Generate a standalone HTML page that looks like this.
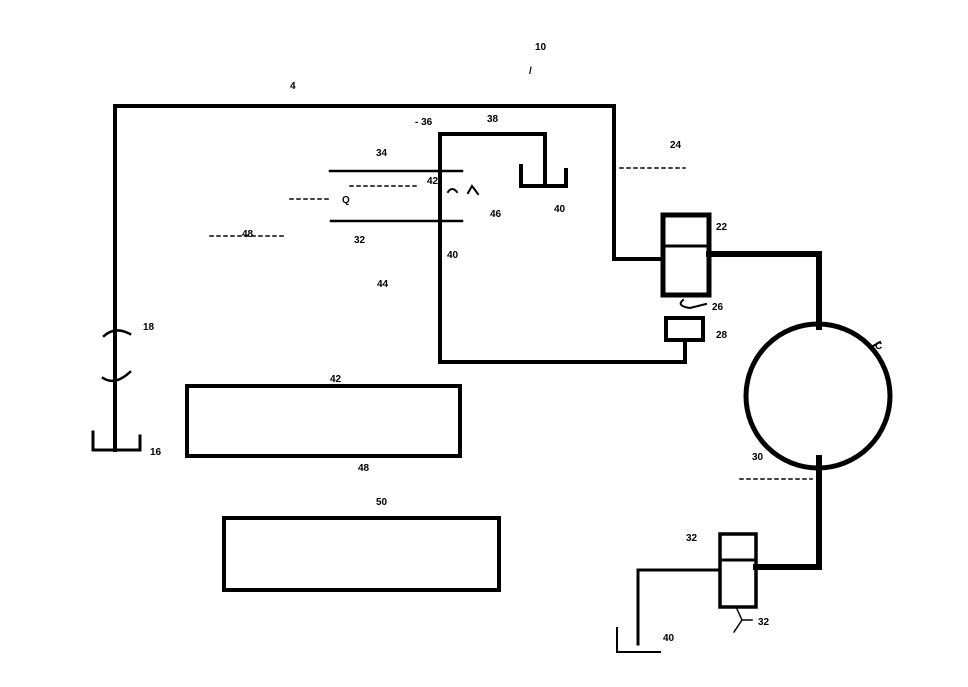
<!DOCTYPE html>
<html><head><meta charset="utf-8"><style>
html,body{margin:0;padding:0;background:#fff;width:968px;height:687px;overflow:hidden}
svg{display:block}
text{font-family:"Liberation Sans",sans-serif;font-weight:bold;font-size:10px;fill:#000}
</style></head><body>
<svg width="968" height="687" viewBox="0 0 968 687" xmlns="http://www.w3.org/2000/svg">
<g fill="none" stroke="#000" stroke-linecap="square">
<!-- top pipe -->
<path d="M115,450 V106 H614 V259 H662" stroke-width="4"/>
<!-- big box -->
<path d="M545,183 V134 H440 V362 H685 V340" stroke-width="4"/>
<!-- cup -->
<path d="M521,166 V186 H566 V170" stroke-width="4"/>
<!-- horizontal lines 34/32 -->
<path d="M330,171 H462 M331,221 H462" stroke-width="2.5"/>
<!-- valve 1 -->
<rect x="663" y="215" width="46" height="80" stroke-width="5"/>
<path d="M663,246 H709" stroke-width="3"/>
<rect x="666" y="318" width="37" height="22" stroke-width="4"/>
<path d="M709,254 H819 V327" stroke-width="6"/>
<!-- circle -->
<circle cx="818" cy="396" r="72" stroke-width="5"/>
<path d="M819,458 V567 H756" stroke-width="6"/>
<!-- valve 2 -->
<rect x="720" y="534" width="36" height="73" stroke-width="3.5"/>
<path d="M720,560 H756" stroke-width="3"/>
<path d="M720,570 H638 V644" stroke-width="3"/>
<path d="M617,628 V652 H660" stroke-width="2"/>
<!-- left cup -->
<path d="M93,432 V450 H140 V436" stroke-width="3"/>
<!-- rectangles -->
<rect x="187" y="386" width="273" height="70" stroke-width="4"/>
<rect x="224" y="518" width="275" height="72" stroke-width="4"/>
<!-- dotted leaders -->
<path d="M620,168 H685 M740,479 H812 M210,236 H285 M290,199 H330 M350,186 H420" stroke-width="1.5" stroke-dasharray="3,4"/>
<!-- orifice arcs -->
<path d="M104,336 Q115,326 130,334 M103,378 Q115,386 130,372" stroke-width="2.5"/>
<path d="M448,192 Q452,186 457,192 M468,193 L472,186 L478,194" stroke-width="2"/>
<path d="M683,300 Q676,306 690,308 L706,304" stroke-width="2"/>
<path d="M737,609 L742,620 L734,632 M742,620 L752,620" stroke-width="1.5"/>
<path d="M873,346 L880,342" stroke-width="2"/>
</g>
<text x="535" y="50">10</text>
<text x="529" y="74" font-size="9">/</text>
<text x="290" y="89">4</text>
<text x="415" y="125">- 36</text>
<text x="487" y="122">38</text>
<text x="376" y="156">34</text>
<text x="427" y="184">42</text>
<text x="342" y="203">Q</text>
<text x="354" y="243">32</text>
<text x="242" y="237">48</text>
<text x="490" y="217">46</text>
<text x="554" y="212">40</text>
<text x="447" y="258">40</text>
<text x="377" y="287">44</text>
<text x="670" y="148">24</text>
<text x="716" y="230">22</text>
<text x="712" y="310">26</text>
<text x="716" y="338">28</text>
<text x="143" y="330">18</text>
<text x="150" y="455">16</text>
<text x="330" y="382">42</text>
<text x="358" y="471">48</text>
<text x="376" y="505">50</text>
<text x="875" y="349">C</text>
<text x="752" y="460">30</text>
<text x="686" y="541">32</text>
<text x="758" y="625">32</text>
<text x="663" y="641">40</text>
</svg>
</body></html>
